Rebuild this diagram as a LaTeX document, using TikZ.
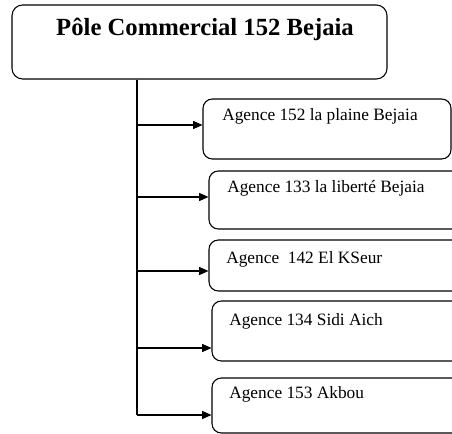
\documentclass[tikz,border=0pt]{standalone}
\usepackage{fontspec}
\setmainfont{Liberation Serif}
\usepackage{tikz}
\usetikzlibrary{positioning,arrows.meta,fit,calc}

\begin{document}
\begin{tikzpicture}[
  x=0.75pt, y=-0.75pt, >={Triangle[length=7pt,width=6pt]},
  pole/.style={draw, rounded corners=8pt, line width=0.8pt, inner sep=0pt},
  agbox/.style={draw, rounded corners=7pt, line width=0.8pt, inner sep=0pt},
  agtxt/.style={anchor=base west, inner sep=0pt, font=\fontsize{13}{15}\selectfont},
  arr/.style={->, line width=0.8pt},
]
\useasboundingbox (0,0) rectangle (452,434);
\clip (0,0) rectangle (452,434);

% top box
\node[pole, fit={(12,5) (387,79)}] (pc) {};
\node[anchor=base, inner sep=0pt, font=\bfseries\fontsize{18.5}{21}\selectfont] (pct) at (205,36) {Pôle Commercial 152 Bejaia};

% agencies
\node[agbox, fit={(203,99) (451,159)}]  (b1) {};
\node[agbox, fit={(209,171) (462,229)}] (b2) {};
\node[agbox, fit={(209,240) (462,291)}] (b3) {};
\node[agbox, fit={(212,301) (462,361)}] (b4) {};
\node[agbox, fit={(212,378) (462,433)}] (b5) {};

\node[agtxt] (t1) at (222,121) {Agence 152 la plaine Bejaia};
\node[agtxt] (t2) at (227,193) {Agence 133 la liberté Bejaia};
\node[agtxt] (t3) at (226,263) {Agence~ 142 El KSeur};
\node[agtxt] (t4) at (229,325) {Agence 134 Sidi Aich};
\node[agtxt] (t5) at (229,398) {Agence 153 Akbou};

% trunk and branches
\coordinate (j1) at (137,125);
\coordinate (j2) at (137,197);
\coordinate (j3) at (137,271);
\coordinate (j4) at (137,348);
\coordinate (j5) at (137,415);

\draw[line width=0.8pt] (pc.south -| j1) -- (j5);
\foreach \i in {1,...,5}
  \draw[arr] (j\i) -- (j\i -| b\i.west);
\end{tikzpicture}
\end{document}
